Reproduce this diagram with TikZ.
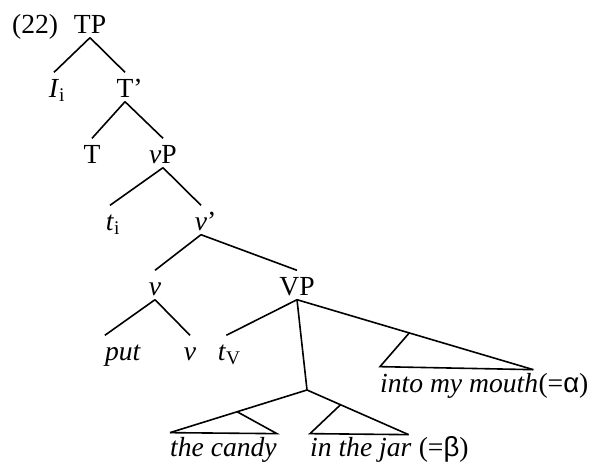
\documentclass[tikz,border=0pt]{standalone}
\usepackage{fontspec}
\setmainfont{Liberation Serif}
\newfontfamily\gkfont{Liberation Sans}
\usetikzlibrary{calc}
\newcommand{\bigfs}{\fontsize{27.6}{33}\selectfont}
\begin{document}
\begin{tikzpicture}[x=1pt,y=-1pt,
  lbl/.style={anchor=base,inner xsep=0pt,inner ysep=4.5pt,text height=20pt,text depth=0pt,font=\bigfs},
  phr/.style={anchor=base west,inner sep=0pt,font=\bigfs\itshape},
  rom/.style={anchor=base west,inner sep=0pt,font=\bigfs},
  br/.style={line width=1.6pt}]
\path[use as bounding box] (0,0) rectangle (590,463);
% labels
\node[rom] (ex) at (12,33) {(22)};
\node[lbl] (TP) at (90,33) {TP};
\node[lbl] (Ii) at (54,97) {\textit{I}\rlap{\textsubscript{i}}};
\node[lbl] (Tbar) at (125,97) {T\rlap{’}};
\node[lbl] (T) at (92,163) {T};
\node[lbl] (vP) at (163,163) {\textit{v}P};
\node[lbl] (ti) at (110,230) {\textit{t}\rlap{\textsubscript{i}}};
\node[lbl] (vbar) at (201,230) {\textit{v}\rlap{’}};
\node[lbl] (v) at (155,295) {\textit{v}};
\node[lbl] (VP) at (297,295) {VP};
\node[lbl] (put) at (123,360) {\textit{put}};
\node[lbl] (vv) at (190,360) {\textit{v}};
\node[lbl] (tV) at (222,360) {\textit{t}\rlap{\textsubscript{V}}};
\coordinate (np) at (307,390);
% phrases
\node[phr] (mouth) at (380,392) {into my mouth};
\node[rom] (alpha) at (mouth.base east) {(={\gkfont α})};
\node[phr] (candy) at (170,456) {the candy};
\node[phr] (jar) at (310,456) {in the jar};
\node[rom] (beta) at ([xshift=7pt]jar.base east) {(={\gkfont β})};
% triangle corners
\coordinate (mL) at ([yshift=6pt]mouth.north west);
\coordinate (mR) at ([xshift=-5pt,yshift=3pt]mouth.north east);
\coordinate (cL) at ([yshift=4pt]candy.north west);
\coordinate (cR) at ([yshift=3pt]candy.north east);
\coordinate (jL) at ([yshift=3pt]jar.north west);
\coordinate (jR) at ([xshift=-3pt,yshift=2pt]jar.north east);
% branches
\draw[br] (TP.south) -- (Ii.north);
\draw[br] (TP.south) -- (Tbar.north);
\draw[br] (Tbar.south) -- (T.north);
\draw[br] (Tbar.south) -- (vP.north);
\draw[br] (vP.south) -- (ti.north);
\draw[br] (vP.south) -- (vbar.north);
\draw[br] (vbar.south) -- (v.north);
\draw[br] (vbar.south) -- (VP.north);
\draw[br] (v.south) -- (put.north west);
\draw[br] (v.south) -- (vv.north);
\draw[br] (VP.south) -- (tV.north east);
\draw[br] (VP.south) -- (np);
\draw[br] (VP.south) -- (mR);
\draw[br] ($(VP.south)!0.475!(mR)$) -- (mL) -- (mR);
\draw[br] (np) -- (cL);
\draw[br] ($(np)!0.51!(cL)$) -- (cR) -- (cL);
\draw[br] (np) -- (jR);
\draw[br] ($(np)!0.33!(jR)$) -- (jL) -- (jR);
\end{tikzpicture}
\end{document}
